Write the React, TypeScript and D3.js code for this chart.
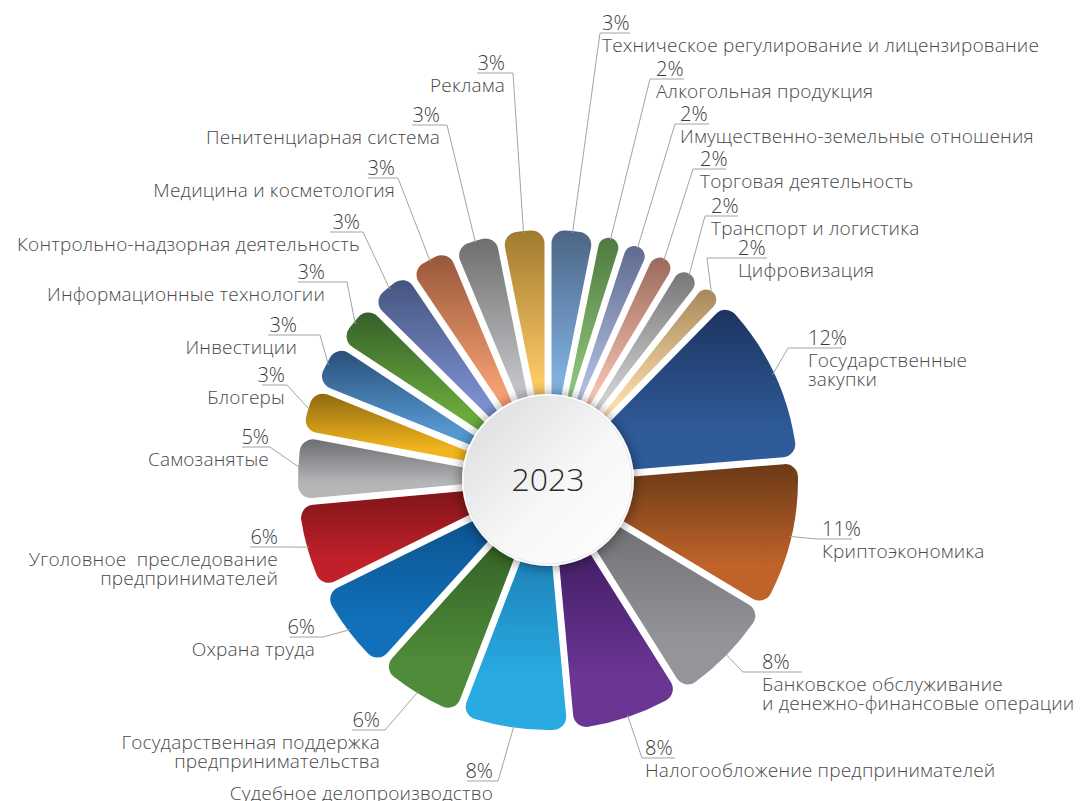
import React, { useLayoutEffect } from 'react';
import * as d3 from 'd3';

// ---- data ----
const categories = [
  'Техническое регулирование и лицензирование',
  'Алкогольная продукция',
  'Имущественно-земельные отношения',
  'Торговая деятельность',
  'Транспорт и логистика',
  'Цифровизация',
  'Государственные закупки',
  'Криптоэкономика',
  'Банковское обслуживание и денежно-финансовые операции',
  'Налогообложение предпринимателей',
  'Судебное делопроизводство',
  'Государственная поддержка предпринимательства',
  'Охрана труда',
  'Уголовное преследование предпринимателей',
  'Самозанятые',
  'Блогеры',
  'Инвестиции',
  'Информационные технологии',
  'Контрольно-надзорная деятельность',
  'Медицина и косметология',
  'Пенитенциарная система',
  'Реклама',
];

// slice shares
const values = [3.0, 1.5, 1.55, 1.6, 1.6, 1.5, 12.1, 10.5, 7.8, 7.8, 7.6, 6.0, 6.2, 6.0, 4.4, 3.0, 3.0, 3.0, 3.0, 3.0, 3.0, 3.0];

// printed percentage labels
const percentLabels = ['3%', '2%', '2%', '2%', '2%', '2%', '12%', '11%', '8%', '8%', '8%', '6%', '6%', '6%', '5%', '3%', '3%', '3%', '3%', '3%', '3%', '3%'];

// label lines (as broken in the picture)
const labelLines = [
  ['Техническое регулирование и лицензирование'],
  ['Алкогольная продукция'],
  ['Имущественно-земельные отношения'],
  ['Торговая деятельность'],
  ['Транспорт и логистика'],
  ['Цифровизация'],
  ['Государственные', 'закупки'],
  ['Криптоэкономика'],
  ['Банковское обслуживание', 'и денежно-финансовые операции'],
  ['Налогообложение предпринимателей'],
  ['Судебное делопроизводство'],
  ['Государственная поддержка', 'предпринимательства'],
  ['Охрана труда'],
  ['Уголовное  преследование', 'предпринимателей'],
  ['Самозанятые'],
  ['Блогеры'],
  ['Инвестиции'],
  ['Информационные технологии'],
  ['Контрольно-надзорная деятельность'],
  ['Медицина и косметология'],
  ['Пенитенциарная система'],
  ['Реклама'],
];

// ---- styles ----
const colorsDark = ['#4b6585', '#4f7a3e', '#5e6a8e', '#9c6a5c', '#777777', '#a8895a', '#1d3460', '#6b3a16', '#6c6d70', '#3c1a5e', '#1a7ab0', '#2f5a22', '#0d4f8a', '#7e1518', '#6d6e71', '#8e6a10', '#2b4f7a', '#35602a', '#46557f', '#98583a', '#6e6e70', '#a07a30'];
const colorsLight = ['#80b0e0', '#8cc47a', '#b0bce0', '#f4c0b0', '#d0d0d0', '#fbdcaa', '#2f5b9a', '#c0632a', '#939598', '#6b3594', '#29abe2', '#4e8b3a', '#1170b9', '#c0202a', '#b5b6b8', '#f2b41e', '#5598d0', '#6aaa3c', '#7b8fcf', '#f5a072', '#c2c3c6', '#fdc865'];

// label layout: elbow point (ex, ey), end of underline (lx), text anchor x (tx)
const labelLayout = [
  [600, 33, 630, 602],
  [650, 79, 684, 656],
  [675, 124, 709, 680],
  [693, 169, 726, 700],
  [705, 216, 738, 711],
  [707, 258, 767, 738],
  [788, 348, 842, 808],
  [817, 539, 852, 822],
  [743, 672, 802, 762],
  [642, 758, 675, 645],
  [498, 781, 467, 493],
  [385, 730, 352, 380],
  [323, 637, 290, 315],
  [280, 547, 250, 278],
  [270, 447, 242, 269],
  [287, 385, 262, 285],
  [320, 335, 268, 297],
  [347, 282, 298, 325],
  [363, 232, 330, 360],
  [398, 178, 368, 395],
  [447, 125, 412, 440],
  [513, 73, 477, 505],
];

const W = 1081;
const H = 801;
const CX = 548;
const CY = 480;
const R_OUT = 250;
const R_IN = 50;
const R_CENTER = 84;
const FONT = "'Open Sans', 'DejaVu Sans', sans-serif";

export default function App() {
  useLayoutEffect(() => {
    document.body.style.margin = '0';
  }, []);

  const pie = d3
    .pie<number>()
    .sort(null)
    .value((d) => d)
    .startAngle(0)
    .endAngle(2 * Math.PI)
    .padAngle(7 / R_OUT);

  const arcs = pie(values);
  const arcGen = d3
    .arc<d3.PieArcDatum<number>>()
    .innerRadius(R_IN)
    .outerRadius(R_OUT)
    .cornerRadius(13)
    .padRadius(R_OUT);

  return (
    <svg width={W} height={H} style={{ display: 'block', background: '#fff' }}>
      <defs>
        {arcs.map((a, i) => (
          <linearGradient key={i} id={`sg${i}`} x1="0" y1="0" x2="0" y2="1">
            <stop offset="0" stopColor={colorsDark[i]} />
            <stop offset="0.75" stopColor={colorsLight[i]} />
          </linearGradient>
        ))}
        <linearGradient id="centerGrad" x1="0" y1="0" x2="1" y2="1">
          <stop offset="0" stopColor="#d9dadd" />
          <stop offset="0.55" stopColor="#f7f7f8" />
          <stop offset="1" stopColor="#ffffff" />
        </linearGradient>
        <filter id="centerShadow" x="-30%" y="-30%" width="160%" height="160%">
          <feGaussianBlur in="SourceAlpha" stdDeviation="7" />
          <feOffset dx="0" dy="1" result="b" />
          <feComponentTransfer>
            <feFuncA type="linear" slope="0.5" />
          </feComponentTransfer>
          <feMerge>
            <feMergeNode />
            <feMergeNode in="SourceGraphic" />
          </feMerge>
        </filter>
      </defs>

      <g transform={`translate(${CX},${CY})`}>
        {arcs.map((a, i) => (
          <path key={i} d={arcGen(a) || ''} fill={`url(#sg${i})`} />
        ))}
        <circle r={R_CENTER + 2} fill="#ffffff" filter="url(#centerShadow)" />
        <circle r={R_CENTER} fill="url(#centerGrad)" stroke="#e6e6e8" strokeWidth={1} />
        <text
          x={0}
          y={11}
          textAnchor="middle"
          fontFamily={FONT}
          fontWeight={300}
          fontSize={32}
          fill="#2b2b2b"
        >
          2023
        </text>
      </g>

      {arcs.map((a, i) => {
        const [ex, ey, lx, tx] = labelLayout[i];
        const mid = (a.startAngle + a.endAngle) / 2;
        const sx = CX + (R_OUT - 2) * Math.sin(mid);
        const sy = CY - (R_OUT - 2) * Math.cos(mid);
        const right = lx > ex;
        const anchor = right ? 'start' : 'end';
        return (
          <g key={`l${i}`}>
            <polyline
              points={`${sx},${sy} ${ex},${ey} ${lx},${ey}`}
              fill="none"
              stroke="#a3a3a3"
              strokeWidth={1}
            />
            <text
              x={tx}
              y={ey - 3.5}
              textAnchor={anchor}
              fontFamily={FONT}
              fontWeight={300}
              fontSize={20}
              fill="#3c3c3c"
            >
              {percentLabels[i]}
            </text>
            {labelLines[i].map((ln, j) => (
              <text
                key={j}
                x={tx}
                y={ey + 18.5 + j * 19.5}
                textAnchor={anchor}
                fontFamily={FONT}
                fontWeight={300}
                fontSize={19}
                letterSpacing={0.2}
                fill="#4a4a4a"
                style={{ whiteSpace: 'pre' }}
              >
                {ln}
              </text>
            ))}
          </g>
        );
      })}
    </svg>
  );
}
